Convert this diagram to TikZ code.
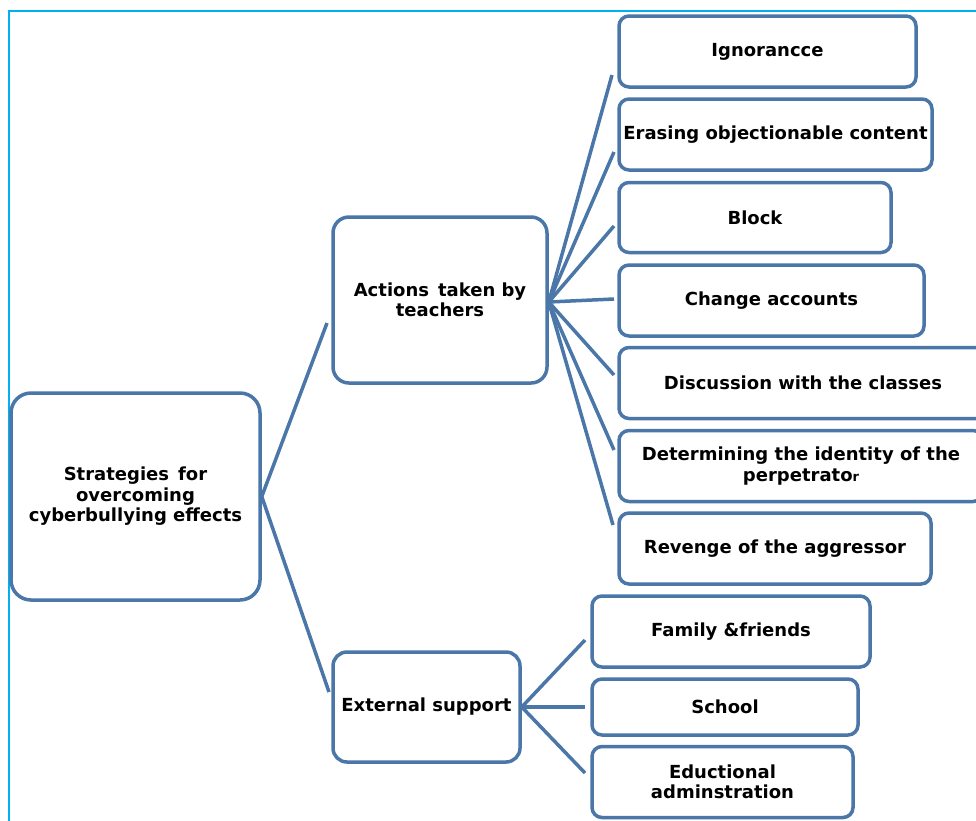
\documentclass[tikz,border=0pt]{standalone}
\usepackage{fontspec}
\setmainfont{DejaVu Sans}
\begin{document}
\begin{tikzpicture}[x=1pt,y=-1pt]
\definecolor{boxblue}{RGB}{74,118,168}
\definecolor{framecyan}{RGB}{0,176,240}
\tikzset{
  box/.style={draw=boxblue, line width=3.5pt, rounded corners=10pt, fill=white,
    align=center, inner sep=2pt, font=\fontsize{18}{20.5}\selectfont\bfseries,
    text=black},
  conn/.style={draw=boxblue, line width=3.5pt}
}
\useasboundingbox (0,0) rectangle (976,820);
\clip (0,0) rectangle (976,820);
\draw[framecyan, line width=2pt] (9,11) rectangle (1000,840);

% root and level 1
\node[box, rounded corners=20pt, minimum width=249pt, minimum height=207pt] (root) at (135.5,496.5)
  {Strategies\enspace for\\overcoming\\cyberbullying effects};
\node[box, rounded corners=16pt, minimum width=214pt, minimum height=166pt] (act) at (440,300)
  {Actions\enspace taken by\\teachers};
\node[box, rounded corners=14pt, minimum width=187pt, minimum height=110pt] (ext) at (426.5,707)
  {External support};

% teacher actions
\node[box, minimum width=297pt, minimum height=71pt] (ign) at (767.5,51.5) {Ignorancce};
\node[box, minimum width=313pt, minimum height=71pt] (era) at (775.5,134.5) {Erasing objectionable content};
\node[box, minimum width=272pt, minimum height=70pt] (blk) at (755,217.5) {Block};
\node[box, minimum width=305pt, minimum height=71pt] (chg) at (771.5,300.5) {Change accounts};
\node[box, minimum width=368pt, minimum height=71pt] (dis) at (803,383) {Discussion with the classes};
\node[box, minimum width=364pt, minimum height=71pt] (det) at (801,466)
  {Determining the identity of the\\perpetrato{\fontsize{13}{13}\selectfont r}};
\node[box, minimum width=312pt, minimum height=71pt] (rev) at (775,548.5) {Revenge of the aggressor};

% external support
\node[box, minimum width=278pt, minimum height=71pt] (fam) at (731,631.5) {Family \&friends};
\node[box, minimum width=266pt, minimum height=56pt] (sch) at (725,707) {School};
\node[box, minimum width=261pt, minimum height=71pt] (edu) at (722.5,782)
  {Eductional\\adminstration};

% free ends of connectors
\coordinate (r1) at (327,323);
\coordinate (r2) at (329,692);
\coordinate (a1) at (612,75);
\coordinate (a2) at (614,152);
\coordinate (a3) at (614,226);
\coordinate (a4) at (614,299);
\coordinate (a5) at (614,375);
\coordinate (a6) at (614,450);
\coordinate (a7) at (613,525);
\coordinate (e1) at (585,640);
\coordinate (e2) at (585,707);
\coordinate (e3) at (585,773);

\draw[conn] (root.east) -- (r1);
\draw[conn] (root.east) -- (r2);
\foreach \c in {a1,a2,a3,a4,a5,a6,a7}
  \draw[conn] ([yshift=-2pt]act.east) -- (\c);
\foreach \c in {e1,e2,e3}
  \draw[conn] (ext.east) -- (\c);
\end{tikzpicture}
\end{document}
